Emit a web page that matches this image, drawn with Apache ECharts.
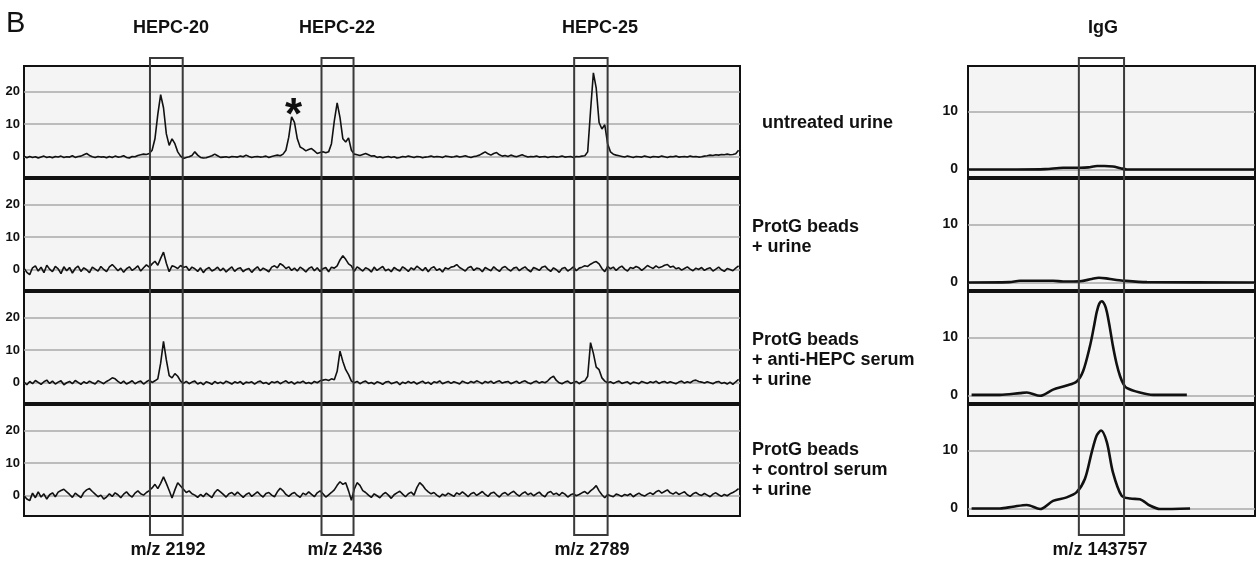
<!DOCTYPE html>
<html><head><meta charset="utf-8">
<script src="https://cdn.jsdelivr.net/npm/echarts@6/dist/echarts.min.js"></script>
<style>html,body{margin:0;padding:0;background:#fff}#c{width:1256px;height:561px}</style>
</head><body><div id="c"></div>
<script>
// ---------- DATA ----------
// HEPC spectra sampled on a regular m/z grid (first m/z and step)
const MZ_FIRST = 1993, MZ_STEP = 4;
const HEPC_RANGE = [1993, 2999];
const IGG_RANGE = [106500, 186500];

const untreatedUrine = [
 0.2,-0.3,0.1,-0.2,0.0,-0.4,-0.1,0.2,-0.2,0.0,
 -0.3,0.1,-0.1,0.2,-0.2,0.0,-0.1,0.3,-0.2,0.1,
 0.2,0.6,1.0,0.4,0.0,-0.2,0.1,-0.1,0.0,-0.3,
 0.1,-0.2,0.2,-0.1,0.0,0.3,-0.2,-0.4,0.1,0.0,
 0.4,0.6,0.8,0.7,1.0,2.0,5.5,13.0,19.0,15.0,
 7.0,3.5,5.5,4.0,1.5,0.2,-0.5,-0.2,0.0,0.4,
 1.5,0.5,-0.2,-0.4,-0.3,0.0,0.3,0.8,0.3,-0.2,
 -0.1,0.0,-0.2,0.1,0.0,-0.1,0.2,0.0,0.5,0.1,
 -0.2,0.0,0.1,-0.1,0.0,0.2,-0.2,0.1,0.3,0.5,
 0.3,0.8,2.0,6.0,12.2,10.5,5.5,3.0,2.5,1.8,
 2.2,2.5,1.8,1.0,1.3,1.5,1.2,1.5,4.0,11.0,
 16.5,12.0,5.5,4.5,5.8,2.0,0.8,0.6,0.4,0.7,
 1.0,0.6,0.2,0.3,-0.2,0.0,-0.3,-0.1,0.1,-0.2,
 0.0,-0.4,-0.2,0.1,-0.1,0.2,0.0,-0.2,0.1,0.0,
 -0.3,-0.1,0.0,0.2,-0.1,0.1,0.0,-0.2,0.2,0.1,
 -0.1,0.0,0.2,-0.1,0.1,0.3,0.0,-0.2,0.1,0.2,
 0.5,1.0,1.5,0.9,0.5,1.0,1.3,0.6,0.2,0.4,
 0.1,0.5,0.2,0.0,0.3,0.6,0.2,-0.1,0.1,0.0,
 0.2,-0.1,0.0,0.1,-0.2,0.0,0.1,-0.1,0.0,0.2,
 -0.1,0.0,0.1,-0.2,0.1,0.0,0.2,0.3,1.5,14.0,
 25.7,21.0,10.5,8.5,9.8,4.0,1.5,0.8,0.5,0.3,
 0.1,-0.1,0.2,0.0,-0.2,0.1,0.0,-0.1,0.2,0.0,
 -0.2,0.1,0.0,-0.1,0.2,0.0,-0.2,0.1,0.0,0.2,
 -0.1,0.0,0.1,-0.1,0.2,0.0,0.1,-0.1,0.0,0.2,
 0.3,0.5,0.4,0.6,0.5,0.7,0.6,0.8,0.6,0.7,
 0.9,2.0];

const protgUrine = [
 0.5,-0.8,-1.5,0.6,1.2,-0.4,0.8,-0.9,1.4,0.2,
 -0.6,1.0,0.3,-1.2,0.9,-0.3,0.7,-1.0,0.4,1.1,
 -0.5,0.6,0.0,-0.9,0.8,0.2,-0.4,1.0,0.1,-0.6,
 0.9,1.6,0.7,-0.3,0.5,-0.8,0.3,0.9,-0.2,0.4,
 1.2,-0.4,0.6,1.5,0.8,1.8,2.6,1.4,3.5,5.4,
 2.0,-0.6,1.2,0.9,0.4,1.3,0.7,1.0,-0.2,0.8,
 0.3,-0.5,0.6,-0.9,0.2,0.7,-0.4,0.1,0.8,-0.3,
 0.5,-0.7,0.2,0.9,-0.5,0.3,0.6,-0.6,0.1,0.4,
 -0.8,0.2,0.9,-0.3,0.5,0.0,-0.6,0.8,1.2,0.6,
 1.9,1.3,0.4,0.9,-0.2,0.5,-0.4,0.8,0.2,-0.7,
 0.4,0.9,-0.3,0.6,-0.5,0.3,0.7,-0.6,0.8,0.5,
 1.2,3.0,4.3,3.2,1.8,1.2,-0.5,0.9,0.3,-0.4,
 0.6,0.2,-0.7,0.8,-0.2,0.4,1.0,-0.3,0.2,-0.6,
 0.7,0.1,-0.4,0.9,0.3,-0.5,0.6,0.0,1.1,0.4,
 -0.3,0.7,-0.6,0.5,0.9,-0.2,0.3,-0.7,0.6,0.2,
 0.8,1.0,1.6,0.7,0.2,-0.4,0.6,1.0,-0.2,0.5,
 0.3,-0.6,0.7,0.2,-0.3,0.9,0.1,-0.5,0.6,1.0,
 0.2,-0.4,0.5,0.8,-0.3,0.4,0.9,0.0,-0.6,0.7,
 0.3,-0.2,0.8,1.1,0.2,-0.5,0.6,0.0,-0.8,0.4,
 0.7,-0.4,0.2,0.9,-0.3,0.5,0.8,1.2,1.0,1.7,
 2.2,2.5,1.8,0.4,-0.6,1.0,0.3,0.8,-0.2,0.6,
 1.1,0.2,-0.4,0.7,0.4,1.0,0.6,-0.2,0.5,1.3,
 0.8,0.4,1.2,0.6,0.9,1.4,1.6,0.8,1.1,0.3,
 0.6,-0.1,0.4,0.9,0.2,-0.3,0.5,0.1,0.7,-0.2,
 0.3,0.6,-0.4,0.2,0.8,0.0,-0.5,0.4,0.1,-0.3,
 0.5,1.2];

const antiHepcSerum = [
 0.2,-0.6,0.4,-0.3,0.7,0.1,-0.5,0.3,0.8,-0.2,
 0.5,-0.4,0.2,0.6,-0.6,0.0,0.4,-0.3,0.7,0.1,
 -0.5,0.3,-0.2,0.5,0.0,-0.4,0.6,0.2,-0.3,0.4,
 0.9,1.5,1.2,0.4,-0.2,0.5,-0.4,0.1,0.6,-0.3,
 0.2,0.5,-0.4,0.3,0.8,0.1,0.6,1.2,6.0,12.7,
 7.0,2.2,1.5,2.8,2.0,0.5,-0.2,0.4,-0.3,0.2,
 0.5,-0.4,0.1,-0.6,0.3,0.0,-0.5,0.4,-0.2,0.2,
 -0.3,0.5,0.1,-0.4,0.3,-0.1,0.4,-0.5,0.2,0.0,
 0.3,-0.4,0.2,0.5,-0.2,0.1,-0.5,0.3,0.0,0.4,
 -0.3,0.2,0.6,-0.1,0.3,-0.4,0.2,0.0,0.5,-0.2,
 0.1,-0.3,0.4,0.0,0.6,0.8,1.0,0.7,1.2,0.9,
 3.5,9.7,6.5,4.0,2.5,0.5,0.0,0.4,-0.3,0.2,
 0.5,-0.2,0.1,-0.4,0.3,0.0,-0.5,0.2,0.4,-0.3,
 0.0,0.3,-0.6,0.2,-0.2,0.4,-0.1,0.3,-0.4,0.1,
 0.5,-0.2,0.2,-0.5,0.3,0.0,0.6,-0.3,0.1,0.4,
 -0.2,0.3,0.0,-0.4,0.5,0.1,-0.2,0.4,0.0,0.6,
 0.2,-0.3,0.4,0.0,0.5,-0.2,0.3,0.6,-0.1,0.2,
 0.4,-0.3,0.1,0.5,-0.2,0.3,0.6,0.0,-0.3,0.2,
 0.5,-0.1,0.3,0.0,0.6,1.5,2.0,0.7,0.0,-0.3,
 0.2,0.5,-0.2,0.1,0.4,-0.3,0.3,0.6,2.0,12.3,
 9.0,4.8,4.0,1.5,0.5,0.0,0.3,-0.2,0.2,0.5,
 -0.2,0.1,0.3,-0.4,0.2,0.0,-0.3,0.4,0.1,-0.2,
 0.3,0.0,0.5,-0.2,0.2,0.4,-0.1,0.3,0.0,-0.3,
 0.2,0.5,-0.1,0.3,0.0,0.6,0.8,0.4,0.2,-0.1,
 0.3,0.0,-0.3,0.2,0.4,-0.2,0.1,-0.4,0.2,-0.5,
 0.3,1.0];

const controlSerum = [
 0.0,-1.0,-1.5,0.8,-0.6,1.2,-0.4,0.6,-1.0,0.3,
 0.9,-0.3,1.1,1.6,2.0,1.2,0.4,-0.5,0.8,0.1,
 -0.6,1.0,1.8,2.2,1.3,0.5,-0.3,0.2,-1.0,-0.4,
 0.6,-0.2,0.9,0.3,-0.6,0.5,1.2,0.2,-0.4,0.8,
 1.5,0.6,0.2,1.0,1.6,2.4,3.5,2.2,3.8,5.8,
 3.8,1.6,-0.7,1.8,4.0,3.0,2.0,1.0,1.5,0.6,
 0.2,-0.5,0.4,-0.3,0.8,0.1,-0.6,1.0,1.9,1.2,
 0.4,-0.4,0.6,1.0,0.2,1.1,0.3,-0.5,0.4,0.9,
 -0.2,0.5,1.2,0.3,-0.4,0.7,1.0,0.2,-0.3,1.2,
 2.3,1.5,0.4,-0.2,0.6,1.0,0.1,-0.5,0.8,0.3,
 1.2,0.4,-0.3,0.9,1.5,0.6,-0.4,0.3,1.0,1.8,
 3.2,4.3,3.5,4.0,1.5,-1.4,2.0,4.0,3.2,1.6,
 1.0,0.2,-0.5,0.6,0.0,-0.6,0.4,1.0,0.2,-0.8,
 0.3,0.9,1.4,0.5,-0.3,0.6,1.1,0.2,2.5,4.0,
 3.2,2.0,1.2,0.6,1.0,0.2,-0.4,0.5,0.0,0.8,
 0.3,-0.2,0.9,0.4,1.2,0.5,-0.3,0.6,1.0,0.1,
 0.7,1.3,0.4,-0.2,0.8,1.1,0.3,-0.4,0.6,1.0,
 0.2,0.9,1.4,0.5,-0.1,0.7,1.2,0.3,0.8,0.0,
 0.6,1.1,0.2,-0.3,0.9,1.3,0.4,0.8,0.1,1.0,
 0.5,-0.4,0.3,0.6,0.0,0.4,0.9,1.3,0.6,1.5,
 2.2,3.1,1.5,0.3,-0.6,0.4,0.0,-0.3,0.5,0.2,
 -0.2,0.4,0.1,0.6,-0.3,0.3,0.8,0.2,-0.1,0.5,
 0.9,0.4,1.2,1.6,0.8,1.3,1.8,0.9,0.5,1.1,
 0.4,0.8,1.2,0.3,-0.2,0.6,1.0,0.4,0.1,0.7,
 0.2,-0.3,0.5,0.9,0.3,-0.2,0.4,0.0,0.6,1.0,
 1.5,2.2];

// IgG spectra: [m/z, intensity]
const iggUntreated = [[106500,0],[120000,0],[128000,0.05],[133000,0.3],[137700,0.3],[140000,0.35],[142500,0.6],[144500,0.6],[146900,0.5],[149000,0.2],[150800,0],[186500,0]];
const iggProtgUrine = [[106500,0],[118000,0.05],[121000,0.3],[130200,0.3],[133000,0.15],[137700,0.2],[141000,0.6],[143000,0.8],[145000,0.7],[147000,0.5],[149700,0.3],[156400,0.05],[186500,0]];
const iggAntiHepc = [[107500,0.1],[115400,0.1],[121000,0.4],[122900,0.5],[126600,-0.05],[130200,1.0],[134000,1.7],[136800,2.4],[138600,4.2],[140500,8.5],[141500,11.5],[142400,14.4],[143100,15.8],[143800,16.2],[144600,15.6],[145200,14.4],[146000,11.8],[146900,8.5],[147900,5.5],[148900,3.3],[149800,2.0],[150700,1.3],[154400,0.5],[158100,0.1],[167500,0.1]];
const iggControl = [[107500,0],[115400,0],[119000,0.3],[122900,0.6],[126600,-0.1],[130200,1.3],[134000,1.9],[136800,2.8],[139100,5.1],[141000,9.7],[142400,12.6],[143600,13.4],[145200,11.4],[146900,6.2],[149300,2.2],[151700,1.7],[154400,1.6],[157200,0.5],[160000,-0.1],[168400,0]];

const hepcWindows = [[2170,2216],[2411,2456],[2766,2813]];
const iggWindows = [[137400,150000]];
const hepcTicks = [0,10,20];
const iggTicks = [0,10];
const asteriskPeak = [2369, 12.2];

const panelLetter = 'B';
const hepcTitles = ['HEPC-20','HEPC-22','HEPC-25'];
const iggTitle = 'IgG';
const hepcMzLabels = ['m/z 2192','m/z 2436','m/z 2789'];
const iggMzLabel = 'm/z 143757';
const rowLabels = [
  ['untreated urine'],
  ['ProtG beads','+ urine'],
  ['ProtG beads','+ anti-HEPC serum','+ urine'],
  ['ProtG beads','+ control serum','+ urine']
];

// ---------- CHART ----------
const FONT = '"Liberation Sans", Arial, Helvetica, sans-serif';
const toPairs = arr => arr.map((v, i) => [MZ_FIRST + i * MZ_STEP, v]);
const hepcSeriesData = [untreatedUrine, protgUrine, antiHepcSerum, controlSerum].map(toPairs);
const iggSeriesData = [iggUntreated, iggProtgUrine, iggAntiHepc, iggControl];

const ROW_TOP = [66, 179, 292, 405], ROW_H = 111;
const LEFT = {left: 24, width: 716};
const RIGHT = {left: 968, width: 287};

const grid = [], xAxis = [], yAxis = [], series = [];
const gridStyle = {show: true, backgroundColor: '#f4f4f4', borderColor: '#111', borderWidth: 2};

function addRow(area, top, xr, yr, ticks, labelSize, labelMargin) {
  const gi = grid.length;
  grid.push(Object.assign({top: top, height: ROW_H}, area, gridStyle));
  xAxis.push({type: 'value', gridIndex: gi, min: xr[0], max: xr[1], show: false});
  yAxis.push({type: 'value', gridIndex: gi, min: yr[0], max: yr[1],
    axisLine: {show: false}, axisTick: {show: false}, splitLine: {show: false},
    axisLabel: {customValues: ticks, fontSize: labelSize, fontWeight: 'bold', color: '#111', fontFamily: FONT, margin: labelMargin}});
  return gi;
}
function gridLines(ticks) {
  return {silent: true, symbol: 'none', z: 1, label: {show: false},
    lineStyle: {color: '#aaaaaa', width: 1.6, type: 'solid'},
    data: ticks.map(v => ({yAxis: v}))};
}

for (let k = 0; k < 4; k++) {
  const gi = addRow(LEFT, ROW_TOP[k], HEPC_RANGE, [-6.2, 27.8], hepcTicks, 13, 4);
  const s = {type: 'line', xAxisIndex: gi, yAxisIndex: gi, data: hepcSeriesData[k],
    showSymbol: false, symbol: 'none', z: 10, lineStyle: {color: '#111', width: 1.6},
    markLine: gridLines(hepcTicks)};
  if (k === 0) {
    s.markPoint = {symbol: 'circle', symbolSize: 0, z: 12,
      label: {show: true, formatter: '*', position: 'inside', fontSize: 44, fontWeight: 'bold', color: '#111', fontFamily: FONT, offset: [2, 0]},
      data: [{coord: asteriskPeak}]};
  }
  series.push(s);
}
for (let k = 0; k < 4; k++) {
  const gi = addRow(RIGHT, ROW_TOP[k], IGG_RANGE, [-1.3, 17.8], iggTicks, 14, 10);
  series.push({type: 'line', xAxisIndex: gi, yAxisIndex: gi, data: iggSeriesData[k],
    showSymbol: false, symbol: 'none', smooth: 0.3, z: 10, lineStyle: {color: '#111', width: 2.6},
    markLine: gridLines(iggTicks)});
}
// overlay grids for the boxes marking the m/z windows
function addOverlay(area, xr, windows) {
  const gi = grid.length;
  grid.push(Object.assign({top: 58, height: 477}, area));
  xAxis.push({type: 'value', gridIndex: gi, min: xr[0], max: xr[1], show: false});
  yAxis.push({type: 'value', gridIndex: gi, min: 0, max: 1, show: false});
  series.push({type: 'custom', xAxisIndex: gi, yAxisIndex: gi, data: windows, z: 20, clip: false,
    renderItem: (params, api) => {
      const p0 = api.coord([api.value(0), 1]);
      const p1 = api.coord([api.value(1), 0]);
      return {type: 'rect', shape: {x: p0[0], y: p0[1], width: p1[0] - p0[0], height: p1[1] - p0[1]},
        style: {fill: 'none', stroke: '#3a3a3a', lineWidth: 2}};
    }});
}
addOverlay(LEFT, HEPC_RANGE, hepcWindows);
addOverlay(RIGHT, IGG_RANGE, iggWindows);

// texts
const graphic = [];
function txt(x, y, text, size, weight, align) {
  graphic.push({type: 'text', x: x, y: y, z: 30,
    style: {text: text, fill: '#111', fontSize: size, fontWeight: weight, fontFamily: FONT,
      align: align || 'center', verticalAlign: 'middle'}});
}
txt(6, 24, panelLetter, 29, 'normal', 'left');
const titleX = [171, 337, 600];
hepcTitles.forEach((t, i) => txt(titleX[i], 28, t, 18, 'bold'));
txt(1103, 28, iggTitle, 18, 'bold');
const mzX = [168, 345, 592];
hepcMzLabels.forEach((t, i) => txt(mzX[i], 550, t, 18, 'bold'));
txt(1100, 550, iggMzLabel, 18, 'bold');
const rowLabelPos = [[762, [123]], [752, [227, 247]], [752, [340, 360, 380]], [752, [450, 470, 490]]];
rowLabels.forEach((lines, r) => lines.forEach((l, j) => txt(rowLabelPos[r][0], rowLabelPos[r][1][j], l, 18, 'bold', 'left')));

const chart = echarts.init(document.getElementById('c'), null, {renderer: 'canvas'});
chart.setOption({animation: false, backgroundColor: '#ffffff', grid, xAxis, yAxis, series, graphic});
</script>
</body></html>
